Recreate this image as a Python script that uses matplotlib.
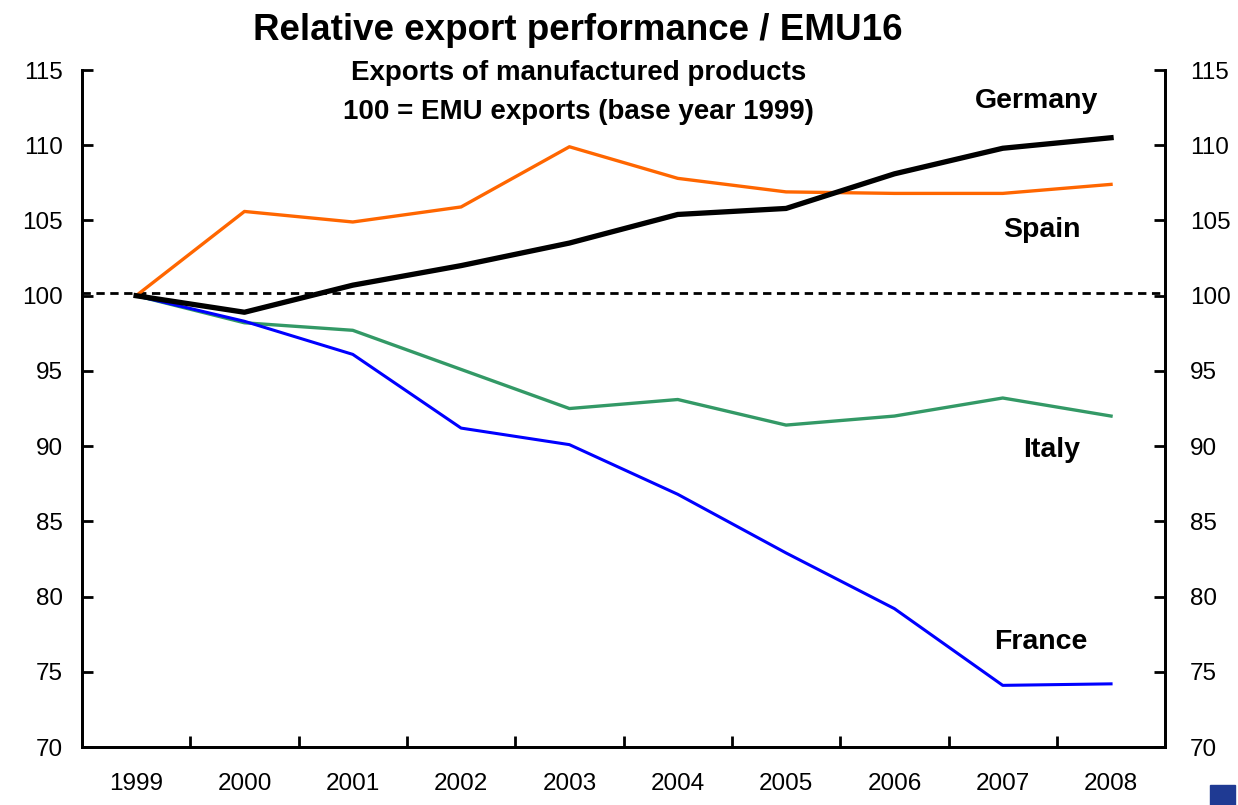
import matplotlib.pyplot as plt
import numpy as np
from matplotlib.patches import Rectangle

plt.rcParams['font.family'] = ['Liberation Sans', 'DejaVu Sans']

years = ['1999', '2000', '2001', '2002', '2003', '2004', '2005', '2006', '2007', '2008']
germany = [100, 98.9, 100.7, 102.0, 103.5, 105.4, 105.8, 108.1, 109.8, 110.5]
spain = [100, 105.6, 104.9, 105.9, 109.9, 107.8, 106.9, 106.8, 106.8, 107.4]
italy = [100, 98.2, 97.7, 95.1, 92.5, 93.1, 91.4, 92.0, 93.2, 92.0]
france = [100, 98.3, 96.1, 91.2, 90.1, 86.8, 82.9, 79.2, 74.1, 74.2]
ref_level = 100.2

fig = plt.figure(figsize=(12.38, 8.05), dpi=100)
ax = fig.add_axes([0.0662, 0.072, 0.875, 0.841])
x = np.arange(len(years))

ax.axhline(ref_level, color='black', lw=2.0, ls=(0, (3, 2)))
ax.plot(x, spain, color='#FF6600', lw=2.4)
ax.plot(x, italy, color='#339966', lw=2.4)
ax.plot(x, france, color='#0000FF', lw=2.2)
ax.plot(x, germany, color='black', lw=3.8)

ax.set_xlim(-0.5, len(years) - 0.5)
ax.set_ylim(70, 115)
yt = np.arange(70, 116, 5)
ax.set_yticks(yt)
ax.set_xticks(x)
ax.set_xticklabels(years)
ax.set_xticks(x[:-1] + 0.5, minor=True)
ax.tick_params(axis='x', which='major', length=0, pad=19, labelsize=17.5)
ax.tick_params(axis='x', which='minor', length=8, width=2, direction='in')
ax.tick_params(axis='y', length=8, width=2, direction='in', labelsize=17.5, pad=14)
for s in ['left', 'right', 'bottom']:
    ax.spines[s].set_linewidth(2)
ax.spines['top'].set_visible(False)

# right-hand axis with same scale
ax2 = ax.twinx()
ax2.set_ylim(70, 115)
ax2.set_yticks(yt)
ax2.tick_params(axis='y', length=8, width=2, direction='in', labelsize=17.5, pad=18)
for s in ['left', 'right', 'bottom']:
    ax2.spines[s].set_linewidth(2)
ax2.spines['top'].set_visible(False)

kw = dict(fontsize=20.5, fontweight='bold', ha='center', va='center')
ax.text(8.31, 112.95, 'Germany', **kw)
ax.text(8.36, 104.4, 'Spain', **kw)
ax.text(8.45, 89.75, 'Italy', **kw)
ax.text(8.35, 76.95, 'France', **kw)

fig.text(0.467, 0.962, 'Relative export performance / EMU16', fontsize=26.5,
         fontweight='bold', ha='center', va='center')
fig.text(0.467, 0.909, 'Exports of manufactured products', fontsize=20,
         fontweight='bold', ha='center', va='center')
fig.text(0.467, 0.861, '100 = EMU exports (base year 1999)', fontsize=20,
         fontweight='bold', ha='center', va='center')

fig.patches.append(Rectangle((1210 / 1238, 0), 25 / 1238, 20 / 805,
                             transform=fig.transFigure, color='#1F3A93'))

fig.savefig('out.png', dpi=100)
